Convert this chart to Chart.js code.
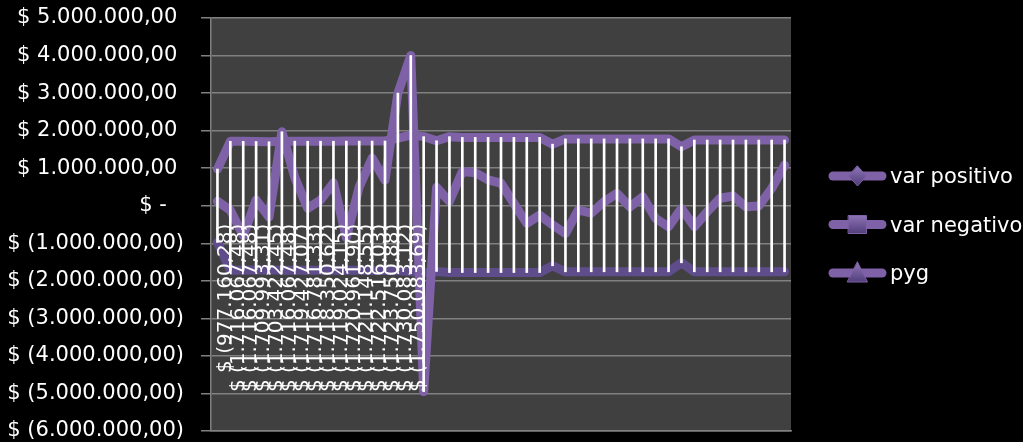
<!DOCTYPE html>
<html>
<head>
<meta charset="utf-8">
<title>var positivo / var negativo / pyg</title>
<script src="https://cdn.jsdelivr.net/npm/chart.js@4.4.1/dist/chart.umd.min.js"></script>
<style>
  html, body { margin: 0; padding: 0; background: #000; }
  #wrap { width: 1023px; height: 442px; position: relative; }
</style>
</head>
<body>
<div id="wrap"><canvas id="pygChart"></canvas></div>
<script>
// ------------------------------
// DATA
// ------------------------------

const periods = [
  "1", "2", "3", "4", "5", "6", "7", "8", "9", "10",
  "11", "12", "13", "14", "15", "16", "17", "18", "19", "20",
  "21", "22", "23", "24", "25", "26", "27", "28", "29", "30",
  "31", "32", "33", "34", "35", "36", "37", "38", "39", "40",
  "41", "42", "43", "44", "45"
];

const varPositivo = [
  977160.28, 1716067.48, 1716067.48, 1709993.31, 1703422.45,
  1716067.48, 1719427.07, 1716781.33, 1718350.62, 1719024.15,
  1720961.90, 1721148.55, 1722516.03, 1723750.88, 1800000,
  1880000, 1840000, 1730000, 1840000, 1820000,
  1820000, 1820000, 1820000, 1820000, 1820000,
  1820000, 1640000, 1780000, 1780000, 1780000,
  1780000, 1780000, 1780000, 1780000, 1780000,
  1780000, 1570000, 1750000, 1750000, 1750000,
  1750000, 1750000, 1750000, 1750000, 1750000
];

const varNegativo = [
  -977160.28, -1716067.48, -1716067.48, -1709993.31, -1703422.45,
  -1716067.48, -1719427.07, -1716781.33, -1718350.62, -1719024.15,
  -1720961.90, -1721148.55, -1722516.03, -1723750.88, -1730083.12,
  -1750083.69, -1780000, -1750000, -1780000, -1780000,
  -1780000, -1780000, -1780000, -1780000, -1780000,
  -1780000, -1600000, -1760000, -1760000, -1760000,
  -1760000, -1760000, -1760000, -1760000, -1760000,
  -1760000, -1520000, -1760000, -1760000, -1760000,
  -1760000, -1760000, -1760000, -1760000, -1760000
];

const pyg = [
  120000, -120000, -800000, 150000, -300000,
  1970000, 750000, -70000, 150000, 610000,
  -850000, 500000, 1270000, 680000, 3000000,
  4000000, -4950000, 490000, 110000, 910000,
  880000, 690000, 600000, 60000, -470000,
  -250000, -510000, -740000, -110000, -200000,
  110000, 330000, -30000, 240000, -340000,
  -560000, -70000, -560000, -160000, 200000,
  260000, -30000, -10000, 460000, 1080000
];

// how many of the var negativo points carry a data label
const labelledPoints = 16;

const legendOrder = ["var positivo", "var negativo", "pyg"];
const legendMarkers = { "var positivo": "diamond", "var negativo": "square", "pyg": "triangle" };

const Y_MIN = -6000000;
const Y_MAX = 5000000;
const Y_STEP = 1000000;

// ------------------------------
// HELPERS
// ------------------------------

const FONT = "'DejaVu Sans', 'Noto Sans', sans-serif";
const PURPLE = "#7e61a6";
const PURPLE_DARK = "#5f4c8a";
const GRID = "#808080";

function formatPeso(value) {
  if (Math.abs(value) < 0.005) return "$ -\u2002 ";
  const [ent, dec] = Math.abs(value).toFixed(2).split(".");
  const grouped = ent.replace(/\B(?=(\d{3})+(?!\d))/g, ".");
  const body = `${grouped},${dec}`;
  return value < 0 ? `$ (${body})` : `$ ${body} `;
}

function highLow(i) {
  return [
    Math.min(varNegativo[i], pyg[i], varPositivo[i]),
    Math.max(varNegativo[i], pyg[i], varPositivo[i])
  ];
}

// ------------------------------
// PLUGINS
// ------------------------------

const plotBackground = {
  id: "plotBackground",
  beforeDraw(chart) {
    const { ctx, chartArea, width, height } = chart;
    ctx.save();
    ctx.fillStyle = "#000";
    ctx.fillRect(0, 0, width, height);
    ctx.fillStyle = "#404040";
    ctx.fillRect(chartArea.left, chartArea.top,
      chartArea.right - chartArea.left, chartArea.bottom - chartArea.top);
    ctx.restore();
  }
};

const pointLabels = {
  id: "pointLabels",
  afterDatasetsDraw(chart) {
    const { ctx, scales } = chart;
    const top = scales.y.getPixelForValue(0) + 18;
    ctx.save();
    ctx.fillStyle = "#fff";
    ctx.font = `20px ${FONT}`;
    ctx.textAlign = "right";
    ctx.textBaseline = "middle";
    for (let i = 0; i < labelledPoints; i++) {
      const x = scales.x.getPixelForValue(i) + 8;
      ctx.save();
      ctx.translate(x, top);
      ctx.rotate(-Math.PI / 2);
      ctx.fillText(formatPeso(varNegativo[i]), 0, 0);
      ctx.restore();
    }
    ctx.restore();
  }
};

function drawMarker(ctx, kind, cx, cy, color) {
  const grad = ctx.createLinearGradient(cx, cy - 10, cx, cy + 10);
  grad.addColorStop(0, "#8f76b8");
  grad.addColorStop(1, "#4f3b78");
  ctx.beginPath();
  if (kind === "diamond") {
    ctx.moveTo(cx, cy - 10);
    ctx.lineTo(cx + 9, cy);
    ctx.lineTo(cx, cy + 10);
    ctx.lineTo(cx - 9, cy);
  } else if (kind === "square") {
    ctx.rect(cx - 9, cy - 9, 18, 18);
  } else {
    ctx.moveTo(cx, cy - 11);
    ctx.lineTo(cx + 10, cy + 9);
    ctx.lineTo(cx - 10, cy + 9);
  }
  ctx.closePath();
  ctx.fillStyle = grad;
  ctx.fill();
  ctx.lineWidth = 1;
  ctx.strokeStyle = color;
  ctx.stroke();
}

const sideLegend = {
  id: "sideLegend",
  afterDraw(chart) {
    const { ctx, chartArea } = chart;
    const midY = (chartArea.top + chartArea.bottom) / 2;
    const x0 = chartArea.right + 42;
    const x1 = x0 + 49;
    ctx.save();
    legendOrder.forEach((name, i) => {
      const y = midY + (i - 1) * 48.5;
      ctx.strokeStyle = PURPLE;
      ctx.lineWidth = 9;
      ctx.lineCap = "round";
      ctx.beginPath();
      ctx.moveTo(x0, y);
      ctx.lineTo(x1, y);
      ctx.stroke();
      drawMarker(ctx, legendMarkers[name], (x0 + x1) / 2, y, PURPLE);
      ctx.fillStyle = "#fff";
      ctx.font = `21px ${FONT}`;
      ctx.textAlign = "left";
      ctx.textBaseline = "middle";
      ctx.fillText(name, x1 + 8, y + 2);
    });
    ctx.restore();
  }
};

// ------------------------------
// CHART
// ------------------------------

const lineStyle = {
  type: "line",
  borderWidth: 9,
  pointRadius: 0,
  pointHoverRadius: 0,
  borderCapStyle: "round",
  borderJoinStyle: "round",
  tension: 0,
  fill: false
};

new Chart(document.getElementById("pygChart"), {
  data: {
    labels: periods,
    datasets: [
      {
        type: "bar",
        label: "high-low",
        data: periods.map((_, i) => highLow(i)),
        backgroundColor: "#ffffff",
        barThickness: 2,
        order: 0
      },
      { ...lineStyle, label: "pyg", data: pyg, borderColor: PURPLE, order: 1 },
      { ...lineStyle, label: "var negativo", data: varNegativo, borderColor: PURPLE_DARK, order: 2 },
      { ...lineStyle, label: "var positivo", data: varPositivo, borderColor: PURPLE, order: 3 }
    ]
  },
  plugins: [plotBackground, pointLabels, sideLegend],
  options: {
    responsive: true,
    maintainAspectRatio: false,
    animation: false,
    events: [],
    layout: { padding: { left: 0, right: 232, top: 18, bottom: 11 } },
    plugins: {
      legend: { display: false },
      tooltip: { enabled: false }
    },
    scales: {
      x: {
        type: "category",
        offset: true,
        grid: { display: true, drawOnChartArea: false, drawTicks: false },
        border: { display: true, color: GRID, width: 1.5 },
        ticks: { display: false }
      },
      y: {
        min: Y_MIN,
        max: Y_MAX,
        afterFit(scale) {
          scale.width = 211;
          scale.paddingTop = 0;
          scale.paddingBottom = 0;
        },
        ticks: {
          stepSize: Y_STEP,
          color: "#fff",
          padding: 17,
          font: { family: FONT, size: 21 },
          callback: (value) => formatPeso(value)
        },
        grid: { color: GRID, lineWidth: 1.5, tickLength: 10 },
        border: { display: true, color: GRID, width: 1.5 }
      }
    }
  }
});
</script>
</body>
</html>
